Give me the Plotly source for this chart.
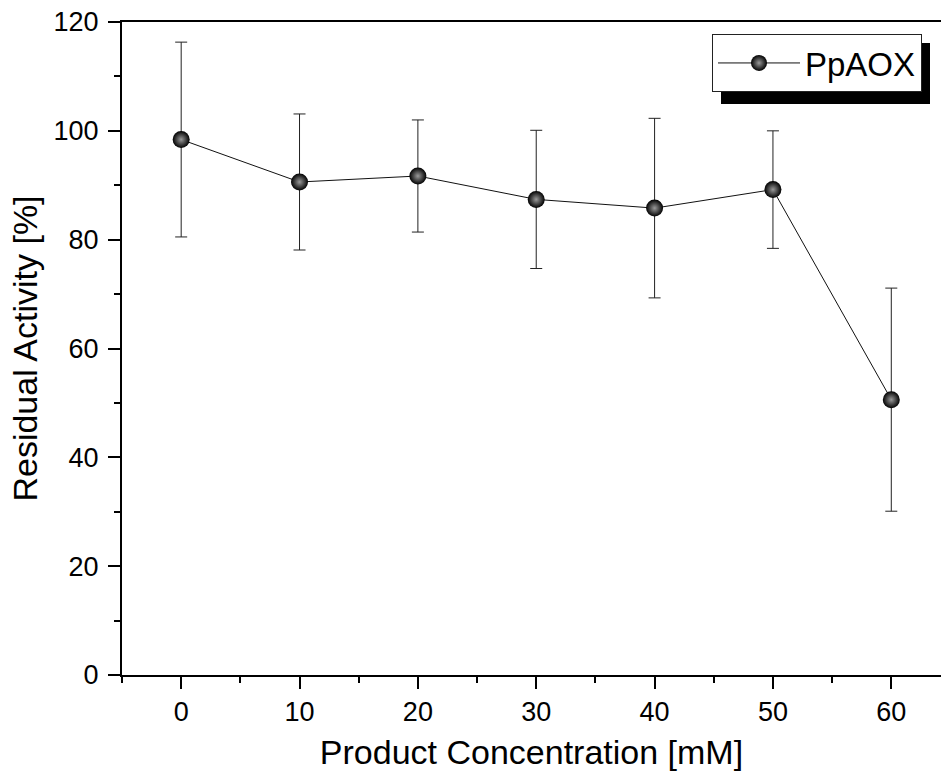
import plotly.graph_objects as go

conc = [0, 10, 20, 30, 40, 50, 60]
activity = [98.4, 90.6, 91.7, 87.4, 85.8, 89.2, 50.6]
err = [17.9, 12.5, 10.3, 12.7, 16.5, 10.8, 20.5]
series_name = "PpAOX"
x_tickvals = [0, 10, 20, 30, 40, 50, 60]
y_tickvals = [0, 20, 40, 60, 80, 100, 120]

FONT = "Arial, 'Liberation Sans', sans-serif"

fig = go.Figure()
fig.add_trace(go.Scatter(
    x=conc, y=activity, name=series_name, mode="lines+markers",
    line=dict(color="#111111", width=1),
    marker=dict(size=17, color="#000000", symbol="circle",
                gradient=dict(type="radial", color="#9a9a9a"),
                line=dict(width=0)),
    error_y=dict(type="data", array=err, visible=True, color="#222222",
                 thickness=1, width=6),
))

W, H = 941, 776
L, R, T, B = 122, 0, 22, 101
pw, ph = W - L - R, H - T - B

def px_x(p):
    return (p - L) / pw

def px_y(p):
    return (H - B - p) / ph

fig.add_shape(type="rect", xref="paper", yref="paper",
              x0=px_x(721), x1=px_x(930), y0=px_y(104), y1=px_y(43),
              fillcolor="black", line=dict(width=0), layer="above")

fig.update_layout(
    width=W, height=H,
    margin=dict(l=L, r=R, t=T, b=B),
    paper_bgcolor="white", plot_bgcolor="white",
    font=dict(family=FONT, color="black"),
    showlegend=True,
    legend=dict(x=px_x(712), y=px_y(34), xanchor="left", yanchor="top",
                bgcolor="white", bordercolor="#222222", borderwidth=1,
                font=dict(size=33, family=FONT), itemwidth=82,
                tracegroupgap=0),
    xaxis=dict(range=[-5, 64.2], tickvals=x_tickvals, ticks="outside",
               ticklen=12, tickwidth=2, tickcolor="black",
               showline=True, linewidth=2, linecolor="black", mirror=True,
               showgrid=False, zeroline=False,
               tickfont=dict(size=27, family=FONT),
               minor=dict(dtick=5, tick0=0, ticks="outside", ticklen=6,
                          tickwidth=2, tickcolor="black", showgrid=False),
               title=dict(text="Product Concentration [mM]",
                          font=dict(size=34, family=FONT), standoff=14)),
    yaxis=dict(range=[0, 120], tickvals=y_tickvals, ticks="outside",
               ticklen=12, tickwidth=2, tickcolor="black",
               showline=True, linewidth=2, linecolor="black", mirror=False,
               showgrid=False, zeroline=False,
               tickfont=dict(size=27, family=FONT), ticklabelstandoff=4,
               minor=dict(dtick=10, tick0=0, ticks="outside", ticklen=6,
                          tickwidth=2, tickcolor="black", showgrid=False),
               title=dict(text="Residual Activity [%]",
                          font=dict(size=34, family=FONT), standoff=6)),
)

fig.write_html("out.html")
